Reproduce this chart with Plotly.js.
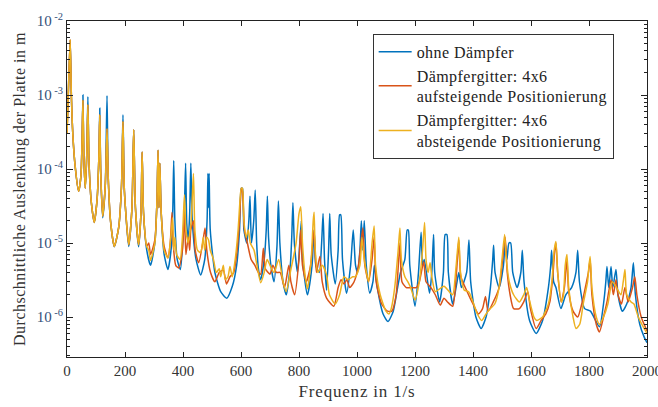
<!DOCTYPE html>
<html>
<head>
<meta charset="utf-8">
<script src="https://cdn.plot.ly/plotly-3.0.1.min.js"></script>
<style>
html,body{margin:0;padding:0;background:#fff;}
#chart{width:658px;height:407px;}
.legendtext{letter-spacing:0.45px;}
.xtitle{letter-spacing:0.8px;}
.ytitle{letter-spacing:0.5px;}
</style>
</head>
<body>
<div id="chart"></div>
<script>
// [frequency in 1/s, amplitude in m]
const ohneDaempfer = [
[0,3.2e-4],[5,1.2e-3],[11,5.5e-3],[15,1.0e-3],[20,3.0e-4],[28,1.1e-4],[40,5.0e-5],[48,8e-5],[52,2.5e-4],[55,1.0e-3],[58,1.5e-4],[63,5.5e-5],[68,1.5e-4],[72,9.5e-4],[76,1.2e-4],[84,3.5e-5],[94,1.9e-5],[104,4e-5],[110,1.5e-4],[113,6.6e-4],[116,1.0e-4],[123,2.2e-5],[132,6e-5],[138,9.8e-4],[142,8e-5],[150,2.0e-5],[163,8.9e-6],[178,1.6e-5],[188,6e-5],[193,5.4e-4],[198,5e-5],[213,9e-6],[224,3e-5],[230,3.4e-4],[236,3e-5],[247,8.9e-6],[255,2.5e-5],[259,1.7e-4],[264,2.5e-5],[275,8e-6],[288,5.0e-6],[303,1.0e-5],[310,3.5e-5],[314,1.8e-4],[317,3e-5],[320,1.2e-4],[325,2.5e-5],[335,7e-6],[348,4.4e-6],[360,9e-6],[365,3e-5],[368,1.3e-4],[372,2e-5],[380,6e-6],[391,4.4e-6],[400,1.2e-5],[405,3e-5],[409,1.2e-4],[413,1.8e-5],[418,1.1e-5],[423,2.5e-5],[427,1.2e-4],[432,2e-5],[445,6e-6],[461,3.7e-6],[475,6e-6],[483,2e-5],[486,8.7e-5],[488,3e-5],[490,8.7e-5],[494,1.5e-5],[510,4e-6],[530,2.2e-6],[551,1.8e-6],[570,2.6e-6],[585,5e-6],[595,1.5e-5],[601,5.5e-5],[605,5.5e-5],[610,1.5e-5],[620,1.0e-5],[627,2e-5],[631,4.3e-5],[636,1.0e-5],[644,2e-5],[649,5.2e-5],[654,1e-5],[660,4.5e-6],[668,3.2e-6],[680,6e-6],[687,1.5e-5],[691,4.3e-5],[695,1.2e-5],[703,5e-6],[714,3.0e-6],[724,9e-6],[729,3.7e-5],[734,1e-5],[745,3e-6],[756,2.0e-6],[770,5e-6],[775,1.2e-5],[779,3.5e-5],[784,1e-5],[795,4e-6],[808,2.0e-5],[812,6e-6],[829,2.0e-6],[845,5e-6],[852,1.5e-5],[858,5e-6],[870,4e-6],[878,1e-5],[883,2.5e-5],[888,6e-6],[895,2.3e-6],[902,8e-6],[906,2.5e-5],[911,7e-6],[925,2.8e-6],[935,8e-6],[940,2.4e-5],[944,2.4e-5],[950,6e-6],[964,2.1e-6],[978,5e-6],[987,1.5e-5],[995,5e-6],[1002,4e-6],[1010,8e-6],[1015,2.0e-5],[1020,8e-6],[1025,2.0e-5],[1032,5e-6],[1044,2.1e-6],[1055,3e-6],[1060,5e-6],[1070,2.5e-6],[1090,1.1e-6],[1107,8.7e-7],[1125,1.2e-6],[1140,2.5e-6],[1150,4e-6],[1165,6e-6],[1173,1.5e-5],[1177,1.5e-5],[1182,5e-6],[1200,1.4e-6],[1212,4e-6],[1221,1.4e-5],[1226,5e-6],[1232,6e-6],[1250,2.1e-6],[1258,4e-6],[1264,1.3e-5],[1268,4e-6],[1285,1.6e-6],[1298,4e-6],[1304,1.3e-5],[1310,1.3e-5],[1315,4e-6],[1330,1.5e-6],[1345,3e-6],[1351,4e-6],[1360,2.5e-6],[1378,4e-6],[1386,1.1e-5],[1392,3e-6],[1410,1.0e-6],[1428,7e-7],[1445,1.0e-6],[1460,2.5e-6],[1468,6e-6],[1471,9.3e-6],[1476,4e-6],[1490,2.5e-6],[1505,5e-6],[1511,1.0e-5],[1517,6e-6],[1524,1e-5],[1530,1.0e-5],[1537,4e-6],[1552,2.5e-6],[1565,4e-6],[1570,8e-6],[1576,3e-6],[1595,9e-7],[1618,6e-7],[1640,9e-7],[1660,2.5e-6],[1668,5e-6],[1671,8e-6],[1678,3e-6],[1686,2.5e-6],[1703,1.3e-6],[1720,2e-6],[1740,2.5e-6],[1755,4e-6],[1761,8e-6],[1767,3e-6],[1785,1.3e-6],[1805,1.2e-6],[1836,7.4e-7],[1850,1.5e-6],[1858,3e-6],[1862,4.8e-6],[1868,2.5e-6],[1876,4.8e-6],[1882,2.5e-6],[1893,4.4e-6],[1900,2e-6],[1915,1.2e-6],[1930,1.5e-6],[1945,2.5e-6],[1953,5.4e-6],[1960,2e-6],[1975,8e-7],[1990,5.4e-7],[2000,4.5e-7]
];
const aufsteigend = [
[0,3.0e-4],[5,1.2e-3],[11,5.6e-3],[15,1.0e-3],[20,3.0e-4],[28,1.1e-4],[40,5.0e-5],[48,8e-5],[52,2.5e-4],[55,8.5e-4],[58,1.5e-4],[63,5.5e-5],[68,1.5e-4],[72,7.4e-4],[76,1.2e-4],[84,3.5e-5],[94,1.9e-5],[104,4e-5],[110,1.5e-4],[113,5.4e-4],[116,1.0e-4],[123,2.3e-5],[132,6e-5],[138,3.5e-4],[142,8e-5],[150,2.0e-5],[163,9e-6],[178,1.6e-5],[188,6e-5],[193,4.4e-4],[198,5e-5],[213,9.5e-6],[224,3e-5],[230,3.4e-4],[236,3e-5],[247,9.5e-6],[255,2.5e-5],[259,1.7e-4],[264,2.5e-5],[275,9e-6],[282,1.0e-5],[288,7e-6],[303,1.1e-5],[310,3.5e-5],[314,1.8e-4],[317,3e-5],[320,1.2e-4],[325,2.5e-5],[335,9e-6],[348,6.3e-6],[356,1e-5],[362,2.6e-5],[366,1e-5],[375,5e-6],[385,4.6e-6],[398,8e-6],[405,2.5e-5],[410,7e-6],[418,1.2e-5],[423,8e-6],[427,1.5e-5],[436,2.0e-5],[442,8e-6],[454,5.4e-6],[468,1e-5],[476,1.6e-5],[482,8e-6],[495,4e-6],[510,3e-6],[525,4e-6],[539,4.3e-6],[550,2.8e-6],[562,3.5e-6],[575,4e-6],[585,7e-6],[595,2e-5],[601,5.5e-5],[605,5.0e-5],[612,1.5e-5],[622,1e-5],[635,6e-6],[648,5e-6],[660,4e-6],[668,3.8e-6],[677,8.5e-6],[684,4.5e-6],[700,3.8e-6],[710,5e-6],[722,4e-6],[735,4e-6],[750,2.5e-6],[765,5e-6],[772,3e-6],[785,2e-6],[800,6e-6],[806,1.5e-5],[812,5e-6],[825,3e-6],[840,5e-6],[852,1.5e-5],[860,4e-6],[872,6.6e-6],[880,3e-6],[895,1.8e-6],[920,1.4e-6],[935,2.5e-6],[945,3.2e-6],[955,2.8e-6],[965,3.2e-6],[975,2.5e-6],[990,3e-6],[1005,5e-6],[1020,1.6e-5],[1027,5e-6],[1040,3e-6],[1052,6e-6],[1059,1.2e-5],[1066,3e-6],[1085,1.5e-6],[1105,1.2e-6],[1120,1.2e-6],[1135,2e-6],[1148,1e-5],[1155,3e-6],[1170,2.5e-6],[1185,2.5e-6],[1204,2.5e-6],[1215,3e-6],[1230,5.6e-6],[1238,3e-6],[1255,2.5e-6],[1270,2e-6],[1287,1.45e-6],[1300,1.8e-6],[1312,1.6e-6],[1330,1.4e-6],[1343,4e-6],[1351,1.1e-5],[1358,3.5e-6],[1380,2.2e-6],[1400,1.5e-6],[1419,1.1e-6],[1433,1.3e-6],[1443,1.9e-6],[1452,1.2e-6],[1470,1.6e-6],[1490,2.5e-6],[1500,5e-6],[1511,1.2e-5],[1518,4e-6],[1528,2e-6],[1540,1.3e-6],[1560,1.3e-6],[1575,1.6e-6],[1589,2.2e-6],[1598,1.3e-6],[1618,7e-7],[1635,9e-7],[1651,1.1e-6],[1665,1.6e-6],[1675,3.5e-6],[1682,8e-6],[1686,1.0e-5],[1692,4e-6],[1704,1.6e-6],[1715,2.5e-6],[1724,6e-6],[1730,2.2e-6],[1745,1.2e-6],[1761,1.0e-6],[1775,1.5e-6],[1790,2.8e-6],[1798,4e-6],[1804,6e-6],[1810,2e-6],[1825,8e-7],[1836,6.3e-7],[1850,1e-6],[1862,1.6e-6],[1876,3.2e-6],[1884,2e-6],[1893,3.2e-6],[1900,2e-6],[1912,1.5e-6],[1924,2.5e-6],[1935,1.6e-6],[1950,2.5e-6],[1958,3.5e-6],[1965,2e-6],[1980,1.0e-6],[1990,8e-7],[2000,6.5e-7]
];
const absteigend = [
[0,3.0e-4],[5,1.2e-3],[11,5.6e-3],[15,1.0e-3],[20,3.0e-4],[28,1.1e-4],[40,5.0e-5],[48,8e-5],[52,2.5e-4],[55,8.5e-4],[58,1.5e-4],[63,5.5e-5],[68,1.5e-4],[72,7.4e-4],[76,1.2e-4],[84,3.5e-5],[94,1.9e-5],[104,4e-5],[110,1.5e-4],[113,5.4e-4],[116,1.0e-4],[123,2.3e-5],[132,6e-5],[138,3.5e-4],[142,8e-5],[150,2.0e-5],[163,9e-6],[178,1.6e-5],[188,6e-5],[193,4.4e-4],[198,5e-5],[213,9.5e-6],[224,3e-5],[230,3.4e-4],[236,3e-5],[247,9.5e-6],[255,2.5e-5],[259,1.7e-4],[264,2.5e-5],[275,9e-6],[282,8e-6],[288,5.8e-6],[303,1.0e-5],[310,3.5e-5],[314,1.8e-4],[317,3e-5],[320,1.2e-4],[325,2.5e-5],[335,8e-6],[348,6.3e-6],[358,1.2e-5],[364,2.2e-5],[368,8e-6],[372,1.2e-5],[378,7e-6],[390,6e-6],[398,1.2e-5],[405,4.5e-5],[410,1.5e-5],[418,1.0e-5],[428,2e-5],[436,8.7e-5],[441,1.5e-5],[450,8e-6],[461,7.4e-6],[470,1.2e-5],[475,8e-6],[482,1.2e-5],[488,1.1e-5],[494,8e-6],[505,6e-6],[515,4e-6],[525,4.5e-6],[530,3.5e-6],[539,5e-6],[546,3.2e-6],[555,3.5e-6],[562,4.8e-6],[570,3.5e-6],[580,6e-6],[590,1.5e-5],[597,4e-5],[601,5.5e-5],[605,5.5e-5],[610,2e-5],[618,1.2e-5],[625,1.5e-5],[632,1.0e-5],[645,8e-6],[655,5e-6],[668,2.9e-6],[680,4e-6],[690,6e-6],[700,5e-6],[714,4e-6],[730,6e-6],[745,3e-6],[756,2.2e-6],[770,4e-6],[790,1.0e-5],[800,2.5e-5],[806,3.1e-5],[812,1e-5],[820,4e-6],[829,2.4e-6],[842,6e-6],[849,2.0e-5],[852,2.6e-5],[856,8e-6],[865,4e-6],[880,5e-6],[895,3.7e-6],[905,2e-6],[925,1.5e-6],[940,2e-6],[955,3.5e-6],[970,3.2e-6],[985,3.5e-6],[995,3.5e-6],[1010,5e-6],[1017,1.2e-5],[1025,6e-6],[1040,3e-6],[1052,1e-5],[1059,1.7e-5],[1064,5e-6],[1080,2e-6],[1100,1.2e-6],[1110,1.1e-6],[1118,1.3e-6],[1130,2.5e-6],[1142,8e-6],[1148,1.6e-5],[1153,6e-6],[1165,3.5e-6],[1175,3e-6],[1185,2.5e-6],[1200,1.7e-6],[1215,3e-6],[1226,8e-6],[1233,1.9e-5],[1238,6e-6],[1245,4e-6],[1252,5.4e-6],[1258,3.5e-6],[1270,2.2e-6],[1285,2.4e-6],[1300,2.6e-6],[1318,2.2e-6],[1330,2e-6],[1342,5e-6],[1351,1.2e-5],[1357,4e-6],[1370,2.3e-6],[1385,2.2e-6],[1400,1.6e-6],[1415,1.1e-6],[1430,9e-7],[1445,1.1e-6],[1460,1.3e-6],[1475,1.5e-6],[1490,2.5e-6],[1500,6e-6],[1509,1.3e-5],[1515,6e-6],[1525,3e-6],[1540,2e-6],[1560,1.6e-6],[1575,2e-6],[1585,2.5e-6],[1593,1.8e-6],[1610,1.0e-6],[1620,9e-7],[1640,1.0e-6],[1650,1.2e-6],[1660,1.5e-6],[1672,3e-6],[1680,8e-6],[1686,1.05e-5],[1692,4e-6],[1705,1.6e-6],[1712,2e-6],[1718,5e-6],[1724,7e-6],[1730,2.5e-6],[1745,1.0e-6],[1755,7e-7],[1768,8e-7],[1780,1.5e-6],[1795,3e-6],[1800,5e-6],[1804,6.6e-6],[1810,2.5e-6],[1825,1.0e-6],[1836,8e-7],[1850,1.0e-6],[1865,1.5e-6],[1880,3e-6],[1895,2.5e-6],[1910,2e-6],[1918,3e-6],[1924,4.4e-6],[1930,2e-6],[1945,1.6e-6],[1955,1.5e-6],[1970,1e-6],[1990,7e-7],[2000,6e-7]
];
const seriesNames = ['ohne Dämpfer','Dämpfergitter: 4x6<br>aufsteigende Positionierung','Dämpfergitter: 4x6<br>absteigende Positionierung'];
const seriesColors = ['#0072BD','#D95319','#EDB120'];
const xTicks = [0,200,400,600,800,1000,1200,1400,1600,1800,2000];
const yTicks = [1e-6,1e-5,1e-4,1e-3,1e-2];
const yTickText = ['10<sup> -6</sup>','10<sup> -5</sup>','10<sup> -4</sup>','10<sup> -3</sup>','10<sup> -2</sup>'];

const serif = 'Liberation Serif, DejaVu Serif, serif';
const all = [ohneDaempfer, aufsteigend, absteigend];
const traces = all.map((s,i)=>({
  type:'scatter', mode:'lines',
  x: s.map(p=>p[0]), y: s.map(p=>p[1]),
  name: seriesNames[i],
  line:{color:seriesColors[i], width:1.5, shape:'spline', smoothing:0.6}
}));

const layout = {
  width:658, height:407,
  margin:{l:67, r:11, t:21, b:50},
  paper_bgcolor:'#fff', plot_bgcolor:'#fff',
  showlegend:true,
  legend:{x:0.527, y:0.962, xanchor:'left', yanchor:'top',
    bgcolor:'#fff', bordercolor:'#333', borderwidth:1, itemwidth:33,
    font:{family:serif, size:16, color:'#222'}, tracegroupgap:0},
  xaxis:{range:[0,2000], tickvals:xTicks, ticks:'inside', ticklen:5, tickcolor:'#222',
    showline:true, linecolor:'#222', linewidth:1, mirror:'ticks', showgrid:false, zeroline:false,
    ticklabeloverflow:'allow',
    tickfont:{family:serif, size:15, color:'#333'},
    title:{text:'Frequenz in 1/s', font:{family:serif, size:17, color:'#333'}, standoff:7}},
  yaxis:{type:'log', range:[-6.54,-2], tickvals:yTicks, ticktext:yTickText,
    ticks:'inside', ticklen:6, tickcolor:'#222',
    minor:{ticks:'inside', ticklen:3, tickcolor:'#222', dtick:'D1', showgrid:false},
    showline:true, linecolor:'#222', linewidth:1, mirror:'ticks', showgrid:false, zeroline:false,
    tickfont:{family:serif, size:15, color:'#34507a'},
    title:{text:'Durchschnittliche Auslenkung der Platte in m', font:{family:serif, size:16, color:'#333'}, standoff:7}}
};
Plotly.newPlot('chart', traces, layout, {displayModeBar:false, staticPlot:true});
</script>
</body>
</html>
